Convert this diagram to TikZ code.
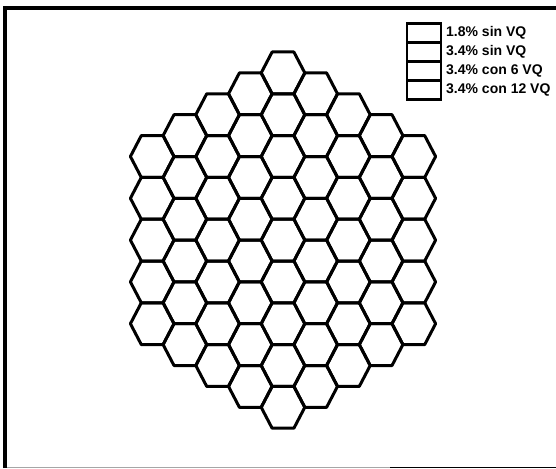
\documentclass[tikz,border=0pt]{standalone}
\usepackage{fontspec}
\setmainfont{Liberation Sans}
\begin{document}
\begin{tikzpicture}[x=1pt,y=-1pt,
  hexcell/.style={draw=black, line width=3pt, line join=round},
  framebar/.style={draw=black, line width=4pt},
  legbox/.style={draw=black, line width=2.8pt, minimum width=34pt, minimum height=19pt, inner sep=0pt},
  legtext/.style={anchor=west, inner sep=0pt, font=\fontsize{14}{16}\selectfont\bfseries}]
\useasboundingbox (0,0) rectangle (556,468);
\fill[white] (0,0) rectangle (556,468);
% frame
\coordinate (fTL) at (5.3,8);
\coordinate (fBL) at (5.3,468);
\coordinate (fTR) at (556,8);
\draw[framebar] (fBL) -- (5.3,6) ;
\draw[framebar] (3.3,8) -- (fTR);
\coordinate (bA) at (7,467.3);
\coordinate (bB) at (390,467.3);
\coordinate (bC) at (556,467.3);
\draw[line width=1.5pt, gray!70] (bA) -- (bB);
\draw[line width=1.5pt, black] (bB) -- (bC);
% hexagonal grid
\foreach \k in {-4,...,4} {
  \pgfmathtruncatemacro{\ak}{abs(\k)}
  \pgfmathtruncatemacro{\nn}{8-\ak}
  \foreach \j in {0,...,\nn} {
    \pgfmathsetmacro{\cx}{283+32.7*\k}
    \pgfmathsetmacro{\cy}{72.9+20.9*\ak+41.8*\j}
    \draw[hexcell] (\cx-21.8,\cy) -- (\cx-10.9,\cy-20.9) -- (\cx+10.9,\cy-20.9)
      -- (\cx+21.8,\cy) -- (\cx+10.9,\cy+20.9) -- (\cx-10.9,\cy+20.9) -- cycle;
  }
}
% legend
\node[legbox] (box1) at (424,33) {};
\node[legbox] (box2) at (424,52) {};
\node[legbox] (box3) at (424,71) {};
\node[legbox] (box4) at (424,90) {};
\node[legtext] (lab1) at (446,33) {1.8\% sin VQ};
\node[legtext] (lab2) at (446,52) {3.4\% sin VQ};
\node[legtext] (lab3) at (446,71) {3.4\% con 6 VQ};
\node[legtext] (lab4) at (446,90) {3.4\% con 12 VQ};
\end{tikzpicture}
\end{document}
